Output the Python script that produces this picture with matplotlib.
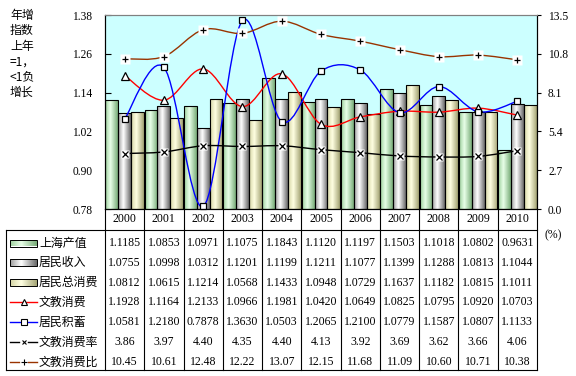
import numpy as np
import matplotlib
matplotlib.use('Agg')
import matplotlib.pyplot as plt
from matplotlib.path import Path
from matplotlib.patches import PathPatch, Rectangle
from matplotlib.colors import LinearSegmentedColormap

# ---------------- data ----------------
years = ['2000', '2001', '2002', '2003', '2004', '2005', '2006', '2007', '2008', '2009', '2010']
shanghai_output = [1.1185, 1.0853, 1.0971, 1.1075, 1.1843, 1.1120, 1.1197, 1.1503, 1.1018, 1.0802, 0.9631]
resident_income = [1.0755, 1.0998, 1.0312, 1.1201, 1.1199, 1.1211, 1.1077, 1.1399, 1.1288, 1.0813, 1.1044]
resident_consumption = [1.0812, 1.0615, 1.1214, 1.0568, 1.1433, 1.0948, 1.0729, 1.1637, 1.1182, 1.0815, 1.1011]
edu_consumption = [1.1928, 1.1164, 1.2133, 1.0966, 1.1981, 1.0420, 1.0649, 1.0825, 1.0795, 1.0920, 1.0703]
resident_savings = [1.0581, 1.2180, 0.7878, 1.3630, 1.0503, 1.2065, 1.2100, 1.0779, 1.1587, 1.0807, 1.1133]
edu_rate = [3.86, 3.97, 4.40, 4.35, 4.40, 4.13, 3.92, 3.69, 3.62, 3.66, 4.06]
edu_ratio = [10.45, 10.61, 12.48, 12.22, 13.07, 12.15, 11.68, 11.09, 10.60, 10.71, 10.38]

series_names = ['上海产值', '居民收入', '居民总消费', '文教消费', '居民积蓄', '文教消费率', '文教消费比']
left_ticks = [0.78, 0.90, 1.02, 1.14, 1.26, 1.38]
right_ticks = [0.0, 2.7, 5.4, 8.1, 10.8, 13.5]
ylabel_lines = ['年增', '指数', '上年', '=1，', '<1负', '增长']

# ---------------- style ----------------
W, H = 576, 376
L, R, T, B = 105, 537, 15, 209
SERIF = 'Liberation Serif'
CJK = ['Noto Sans CJK SC', 'DejaVu Sans']
bar_cmaps = [
    LinearSegmentedColormap.from_list('g', [(0, '#9ccf9c'), (0.42, '#e8ffe8'), (1, '#78ac78')]),
    LinearSegmentedColormap.from_list('s', [(0, '#9c9c9c'), (0.42, '#ffffff'), (1, '#6a6a6a')]),
    LinearSegmentedColormap.from_list('y', [(0, '#d4d4a4'), (0.42, '#ffffe2'), (1, '#a4a474')]),
]
grad = np.linspace(0, 1, 64).reshape(1, -1)

fig = plt.figure(figsize=(W / 100, H / 100), dpi=100)
ax = fig.add_axes([L / W, 1 - B / H, (R - L) / W, (B - T) / H])
ax.set_facecolor('#ccffff')
ax2 = ax.twinx()

n = len(years)
x = np.arange(n)
bw = 0.327
ybase = left_ticks[0]

def grad_bar(axis, x0, x1, y0, y1, cmap, z=2):
    rect = Rectangle((x0, y0), x1 - x0, y1 - y0, facecolor='none', edgecolor='black',
                     linewidth=0.8, zorder=z + 0.1)
    axis.add_patch(rect)
    im = axis.imshow(grad, cmap=cmap, extent=[x0, x1, y0, y1], aspect='auto',
                     interpolation='bilinear', zorder=z)
    im.set_clip_path(rect)

for k, vals in enumerate([shanghai_output, resident_income, resident_consumption]):
    for i, v in enumerate(vals):
        xc = x[i] + (k - 1) * bw
        grad_bar(ax, xc - bw / 2, xc + bw / 2, ybase, v, bar_cmaps[k])

def smooth_path(xs, ys):
    pts = np.column_stack([xs, ys]).astype(float)
    m = len(pts)
    verts = [pts[0]]
    codes = [Path.MOVETO]
    for i in range(m - 1):
        p0 = pts[i - 1] if i > 0 else pts[i]
        p1, p2 = pts[i], pts[i + 1]
        p3 = pts[i + 2] if i + 2 < m else pts[i + 1]
        verts += [p1 + (p2 - p0) / 6, p2 - (p3 - p1) / 6, p2]
        codes += [Path.CURVE4] * 3
    return Path(verts, codes)

def draw_line(axis, vals, color, marker, ms):
    axis.add_patch(PathPatch(smooth_path(x, vals), facecolor='none', edgecolor=color,
                             linewidth=1.0, zorder=5))
    if marker in ('^', 's'):
        axis.plot(x, vals, linestyle='none', marker=marker, ms=ms, mfc='white', mec='black',
                  mew=0.9, zorder=6, clip_on=False)
    else:
        axis.plot(x, vals, linestyle='none', marker='s', ms=ms + 1.8, mfc='white', mec='none',
                  zorder=6, clip_on=False)
        axis.plot(x, vals, linestyle='none', marker=marker, ms=ms, mec='black',
                  mew=0.9, zorder=7, clip_on=False)

draw_line(ax, edu_consumption, '#ff0000', '^', 5.2)
draw_line(ax, resident_savings, '#0000ff', 's', 4.5)
draw_line(ax2, edu_rate, '#000000', 'x', 4.3)
draw_line(ax2, edu_ratio, '#993300', '+', 5)

ax.set_xlim(-0.5, n - 0.5)
ax.set_ylim(left_ticks[0], left_ticks[-1])
ax2.set_ylim(right_ticks[0], right_ticks[-1])
ax.set_xticks([])
ax.set_yticks(left_ticks)
ax.set_yticklabels([f'{t:.2f}' for t in left_ticks], fontfamily=SERIF, fontsize=8.3)
ax.tick_params(axis='y', direction='in', length=4, width=0.8, pad=9)
ax2.set_yticks(right_ticks)
ax2.set_yticklabels([f'{t:.1f}' for t in right_ticks], fontfamily=SERIF, fontsize=8.3)
ax2.tick_params(axis='y', direction='out', length=3, width=0.8, pad=5)
for a in (ax, ax2):
    a.spines['top'].set_color('#808080')
    a.spines['left'].set_color('black')
    a.spines['right'].set_color('black')
    a.spines['bottom'].set_color('black')
    for s in a.spines.values():
        s.set_linewidth(0.8)

# ---------------- overlay: table and labels ----------------
ov = fig.add_axes([0, 0, 1, 1])
ov.set_xlim(0, W)
ov.set_ylim(H, 0)
ov.axis('off')
ov.patch.set_visible(False)

cw = (R - L) / n
TL, TT, TB = 6, 230, 370
lw = 0.8
for k in range(n + 1):
    xb = L + k * cw
    ov.plot([xb, xb], [B, TB], color='black', lw=lw)
ov.plot([TL, R], [TT, TT], color='black', lw=lw)
ov.plot([TL, R], [TB, TB], color='black', lw=lw)
ov.plot([TL, TL], [TT, TB], color='black', lw=lw)

for i, yr in enumerate(years):
    ov.text(L + (i + 0.5) * cw, 219.5, yr, ha='center', va='center', fontfamily=SERIF, fontsize=8.6)

rows = [shanghai_output, resident_income, resident_consumption, edu_consumption,
        resident_savings, edu_rate, edu_ratio]
fmts = ['{:.4f}'] * 5 + ['{:.2f}'] * 2
row_y = [243 + 19.8 * r for r in range(7)]
for r, vals in enumerate(rows):
    for i, v in enumerate(vals):
        ov.text(L + (i + 0.5) * cw, row_y[r], fmts[r].format(v), ha='center', va='center',
                fontfamily=SERIF, fontsize=8.5)
    ov.text(39, row_y[r], series_names[r], ha='left', va='center', fontfamily=CJK, fontsize=8.6)

# legend keys
for r in range(3):
    y0 = row_y[r]
    rect = Rectangle((10, y0 - 3.5), 27, 7, facecolor='none', edgecolor='black', lw=0.7, zorder=3)
    ov.add_patch(rect)
    im = ov.imshow(grad, cmap=bar_cmaps[r], extent=[10, 37, y0 + 3.5, y0 - 3.5],
                   aspect='auto', interpolation='bilinear', zorder=2)
    im.set_clip_path(rect)
key_specs = [('#ff0000', '^', 4.8), ('#0000ff', 's', 4.3), ('#000000', 'x', 3.0), ('#993300', '+', 4.0)]
for j, (c, mk, ms) in enumerate(key_specs):
    y0 = row_y[3 + j]
    if mk in ('^', 's'):
        ov.plot([10, 37], [y0, y0], color=c, lw=1.0, zorder=3)
        ov.plot([23.5], [y0], marker=mk, ms=ms, mfc='white', mec='black', mew=0.8, zorder=4)
    else:
        ov.plot([10, 19], [y0, y0], color=c, lw=1.0, zorder=3)
        ov.plot([28, 37], [y0, y0], color=c, lw=1.0, zorder=3)
        ov.plot([23.5], [y0], marker=mk, ms=ms, mec='black', mew=0.8, zorder=5)
ov.set_xlim(0, W)
ov.set_ylim(H, 0)

# left axis title
for j, s in enumerate(ylabel_lines):
    ov.text(10, 15.5 + 15.4 * j, s, ha='left', va='center', fontfamily=CJK, fontsize=8.6)
ov.text(553, 235, '(%)', ha='center', va='center', fontfamily=SERIF, fontsize=8.5)

fig.savefig('out.png', dpi=100)
